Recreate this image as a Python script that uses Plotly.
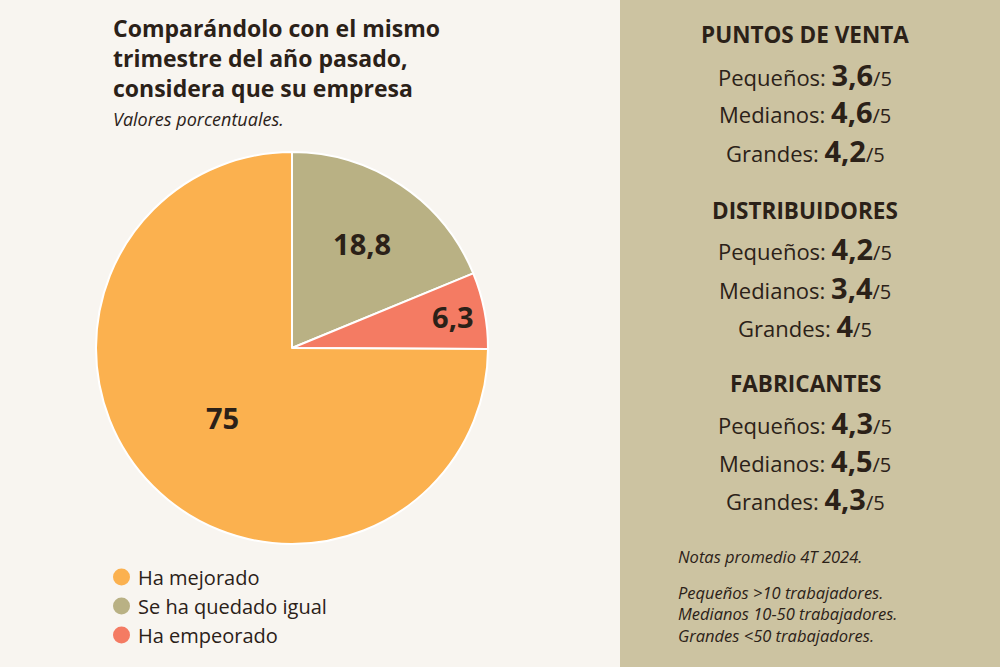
import plotly.graph_objects as go

# pie data
categories = ["Ha mejorado", "Se ha quedado igual", "Ha empeorado"]
values = [75, 18.8, 6.3]
colors = ["#fbb14f", "#b9b184", "#f47b63"]

# side panel data
sections = ["PUNTOS DE VENTA", "DISTRIBUIDORES", "FABRICANTES"]
sizes = ["Pequeños", "Medianos", "Grandes"]
scores = [[3.6, 4.6, 4.2], [4.2, 3.4, 4.0], [4.3, 4.5, 4.3]]
note_title = "Notas promedio 4T 2024."
notes = ["Pequeños >10 trabajadores.",
         "Medianos 10-50 trabajadores.",
         "Grandes <50 trabajadores."]

W, H = 1000, 667
FONT = "Open Sans"
INK = "#2b2118"


def fmt(v):
    s = f"{v:g}"
    return s.replace(".", ",")


def py(px):
    # pixel row -> paper y
    return 1 - px / H


# slices run clockwise from 12 o'clock: igual, empeorado, mejorado
order = [1, 2, 0]
fig = go.Figure(go.Pie(
    labels=[categories[i] for i in order],
    values=[values[i] for i in order],
    text=[fmt(values[i]) for i in order],
    textinfo="text",
    texttemplate="<b>%{text}</b>",
    textposition="inside",
    insidetextorientation="horizontal",
    textfont=dict(family=FONT, size=29, color=INK),
    marker=dict(colors=[colors[i] for i in order], line=dict(color="#ffffff", width=2)),
    sort=False,
    direction="clockwise",
    rotation=0,
    showlegend=False,
    hoverinfo="label+value",
    domain=dict(x=[96 / W, 488 / W], y=[py(544), py(152)]),
))

shapes = [dict(type="rect", xref="paper", yref="paper", x0=620 / W, x1=1, y0=0, y1=1,
               fillcolor="#ccc3a1", line_width=0, layer="below")]
annotations = []

# title block
annotations.append(dict(
    text="<b>Comparándolo con el mismo<br>trimestre del año pasado,<br>considera que su empresa</b>",
    x=111 / W, y=py(10), xanchor="left", yanchor="top", align="left",
    font=dict(family=FONT, size=23, color=INK), showarrow=False))
annotations.append(dict(
    text="<i>Valores porcentuales.</i>", x=111 / W, y=py(119), xanchor="left", yanchor="middle",
    font=dict(family=FONT, size=18, color=INK), showarrow=False))

# legend
for i, cat in enumerate(categories):
    yc = 577 + i * 29
    shapes.append(dict(type="circle", xref="paper", yref="paper",
                       x0=113 / W, x1=130 / W, y0=py(yc + 8.5), y1=py(yc - 8.5),
                       fillcolor=colors[i], line_width=0))
    annotations.append(dict(text=cat, x=136 / W, y=py(yc), xanchor="left", yanchor="middle",
                            font=dict(family=FONT, size=20, color=INK), showarrow=False))

# side panel scores
head_y = [35, 210, 383]
for s, sec in enumerate(sections):
    annotations.append(dict(text=f"<b>{sec}</b>", x=805 / W, y=py(head_y[s]), xanchor="center",
                            yanchor="middle", font=dict(family=FONT, size=22.5, color=INK),
                            showarrow=False))
    for k, size in enumerate(sizes):
        yl = head_y[s] + 39 + k * 38
        txt = (f"{size}: <b><span style='font-size:29px'>{fmt(scores[s][k])}</span></b>"
               f"<span style='font-size:20px'>/5</span>")
        annotations.append(dict(text=txt, x=805 / W, y=py(yl), xanchor="center", yanchor="middle",
                                font=dict(family=FONT, size=22, color=INK), showarrow=False))

# notes
annotations.append(dict(text=f"<i>{note_title}</i>", x=676 / W, y=py(556), xanchor="left",
                        yanchor="middle", font=dict(family=FONT, size=16.5, color=INK),
                        showarrow=False))
annotations.append(dict(text="<i>" + "<br>".join(notes) + "</i>", x=676 / W, y=py(614),
                        xanchor="left", yanchor="middle", align="left",
                        font=dict(family=FONT, size=16.5, color=INK), showarrow=False))

fig.update_layout(
    width=W, height=H,
    margin=dict(l=0, r=0, t=0, b=0),
    paper_bgcolor="#f8f5f0",
    plot_bgcolor="#f8f5f0",
    shapes=shapes,
    annotations=annotations,
)

fig.write_html("out.html", config={"displayModeBar": False},
               post_script="document.body.style.margin='0';")
